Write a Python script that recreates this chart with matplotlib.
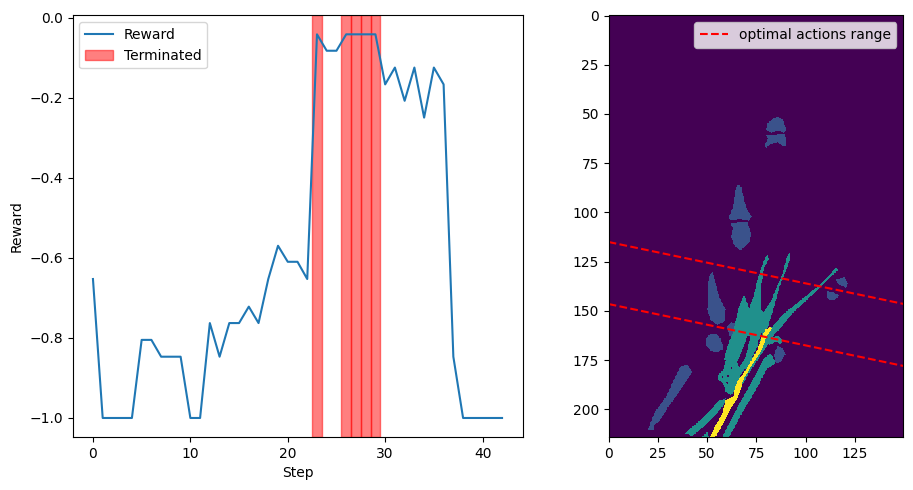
import numpy as np
import matplotlib
matplotlib.use("Agg")
import matplotlib.pyplot as plt
from matplotlib.path import Path

steps = list(range(43))
rewards = [-0.653, -1, -1, -1, -1, -0.805, -0.805, -0.847, -0.847, -0.847,
           -1, -1, -0.763, -0.847, -0.763, -0.763, -0.722, -0.763, -0.653, -0.57,
           -0.61, -0.61, -0.653, -0.042, -0.083, -0.083, -0.042, -0.042, -0.042, -0.042,
           -0.167, -0.125, -0.208, -0.125, -0.25, -0.125, -0.167, -0.847, -1, -1,
           -1, -1, -1]
terminated_steps = [23, 26, 27, 28, 29]

# optimal actions range, (x, y) ends in image cells
range_upper = [(0, 115), (150, 146.5)]
range_lower = [(0, 146.5), (150, 178)]

img_rows = 214
img_cols = 150
oversample = 3

# segmentation outlines, image cells (x, y)
blue_shapes = [
    [(85.5, 51.5), (88, 52.9), (90.1, 58), (88.9, 59.6), (85.5, 58.8), (82.1, 59.6), (79.6, 58.3), (80.4, 54.9), (83, 52.5)],
    [(79.2, 60.5), (82.1, 60.5), (85.5, 60.5), (89.2, 60.2), (89.8, 63.9), (90.1, 66.4), (88, 66.4), (85.5, 64.4), (82.1, 65.6), (79.6, 67.4), (79, 65.6), (80.7, 62.7)],
    [(66, 85.8), (67.3, 87.6), (68.5, 93.6), (70.2, 98.6), (72.4, 102.4), (71, 104.2), (66, 103.7), (61.7, 104.2), (60.7, 102.4), (63.1, 96.9), (63.7, 90.2), (64.8, 86.4)],
    [(61.7, 105.8), (66, 104.9), (70.2, 105.1), (72.2, 111.3), (71, 115.6), (66.8, 119.3), (63.7, 117.3), (62, 113), (62.6, 108)],
    [(52.4, 130), (54.1, 135.9), (55.8, 142.7), (59.2, 149.5), (58.6, 155.4), (54.9, 157.1), (51.5, 154.6), (49.8, 149.5), (50.1, 139.3), (50.7, 132.5)],
    [(49, 164.7), (50.7, 162.2), (54.9, 161.9), (56.9, 164.7), (58.3, 169), (54.9, 171.2), (51.5, 170.2), (49.1, 167.3)],
    [(60, 158), (62, 155.6), (65.1, 157.1), (64.3, 162.2), (60.9, 163)],
    [(36.2, 178.3), (39.6, 177.4), (42.2, 180.8), (36.2, 190.2), (30.2, 198.6), (25.2, 206.3), (22.6, 208), (22.6, 210.5), (20, 210.2), (20.9, 207.1), (23.4, 201.2), (29.4, 192.7), (33.7, 183.4)],
    [(115.3, 133.9), (119.5, 133), (120.9, 135.9), (120.4, 138.5), (117, 136.8), (115.8, 135.6)],
    [(110.7, 139.8), (114.4, 141), (117, 142.4), (114.4, 144.4), (111.9, 144.7), (110.2, 142.7)],
    [(85.5, 167.8), (88, 169), (89.7, 171.9), (87.2, 175.8), (84.7, 176.6), (83.5, 172.4)],
]
teal_shapes = [
    # fan with the fingers
    [(58.3, 174.9), (60, 168.1), (62.6, 161.4), (64.3, 154.6), (65.7, 148.6), (68.5, 141.8), (71.1, 148.6), (73.6, 141.8), (75.4, 133.4), (77.6, 127.4), (79.6, 122.3), (80.5, 121.5), (81, 124), (78.7, 128.3), (78.2, 131.7), (77, 138.4), (77, 148.6), (78.2, 151.1), (82.1, 145.2), (85.6, 136.7), (88.1, 130.8), (90.6, 121.5), (91.8, 120.6), (91.5, 124.9), (89, 131.7), (86.4, 137.6), (84.7, 144.4), (82.1, 153.7), (80.4, 158.8), (76.2, 166.4), (71.1, 176.6), (66.8, 182.5), (65.1, 180.8), (69.4, 173.2), (71.9, 162.2), (70.2, 163), (66, 174), (64.3, 176.6)],
    # long arm right of the yellow
    [(115.3, 128), (116.4, 129.1), (111, 134.2), (104.2, 141), (95.7, 148.6), (88.9, 156.3), (83.8, 162.2), (79.5, 169), (75.3, 175), (71, 181.5), (67.5, 188), (66, 192), (65.5, 188), (70, 178), (75, 170), (81.3, 159.7), (88.1, 152), (97.4, 144.4), (105.9, 137.6)],
    # left strip at the bottom
    [(38.8, 212.2), (42.2, 213.6), (48.1, 208.8), (54, 202.9), (58.3, 197.8), (59.2, 194.4), (55.7, 195.3), (52.4, 199.5), (46.4, 205.4), (41.3, 209.7)],
    # right strip at the bottom
    [(78.7, 174), (82.1, 171.5), (84.7, 176.6), (80.4, 179.1), (74.5, 190), (68, 201), (60.9, 214), (57.5, 214), (65.1, 199), (71.5, 187.6)],
    [(81.3, 163.9), (85.5, 162.7), (88, 164.7), (87.2, 167.3), (84.7, 165.6), (81.3, 167.3)],
    # noisy patch under the fan
    [(59, 175.5), (64.5, 175.5), (67, 180), (66, 185.1), (63.4, 191), (61.7, 192.7), (59.2, 191), (58, 187), (55.5, 185), (55.2, 182.5), (58, 180)],
    [(49.8, 211.3), (50.7, 214), (47.3, 214)],
]
gap_shapes = [
    [(77.4, 161.4), (77.9, 161.9), (75.7, 166.8), (75.2, 166.4)],
    [(60, 182.5), (60.9, 182.5), (60.8, 183.5), (60, 183.4)],
    [(57.2, 183), (58, 182.8), (58.1, 183.8), (57.4, 183.9)],
    [(61.5, 178.5), (62.4, 178.4), (62.4, 179.4), (61.6, 179.4)],
    [(59.5, 186.5), (60.3, 186.4), (60.3, 187.3), (59.6, 187.3)],
]
yellow_shapes = [
    [(82.1, 158), (82.6, 158.8), (79.6, 163.9), (77.9, 169), (73.6, 175.8), (71, 180), (68.5, 184.2), (66.5, 191), (65.1, 194.4), (61.7, 199.5), (56.6, 209.7), (54, 214),
     (51.2, 214), (53.2, 209.7), (57.5, 202), (59.2, 195.3), (63.4, 193.2), (63.4, 190.2), (65.1, 185.9), (67.6, 182.5), (69.4, 180), (72, 175.5), (75, 170), (77.5, 163.5), (79.5, 159.5)],
]

xs = (np.arange(img_cols * oversample) + 0.5) / oversample
ys = (np.arange(img_rows * oversample) + 0.5) / oversample
xx, yy = np.meshgrid(xs, ys)
cells = np.column_stack([xx.ravel(), yy.ravel()])
mask = np.zeros(cells.shape[0])
for shapes, label in [(blue_shapes, 1), (teal_shapes, 2), (gap_shapes, 0), (yellow_shapes, 4)]:
    for s in shapes:
        mask[Path(s).contains_points(cells)] = label
mask = mask.reshape(img_rows * oversample, img_cols * oversample)

fig = plt.figure(figsize=(9.13, 4.9), dpi=100)
ax1 = fig.add_axes([72.5 / 913, 1 - 437 / 490, 450 / 913, 421.5 / 490])
ax2 = fig.add_axes([608.5 / 913, 1 - 437 / 490, 295 / 913, 421.5 / 490])

ax1.plot(steps, rewards, label="Reward")
for i, s in enumerate(terminated_steps):
    ax1.axvspan(s - 0.5, s + 0.5, color="red", alpha=0.5, label="Terminated" if i == 0 else None)
ax1.set_xlim(-2.1, 44.1)
ax1.set_ylim(-1.0475, 0.005)
ax1.set_xlabel("Step")
ax1.set_ylabel("Reward")
ax1.legend(loc="upper left")

ax2.imshow(mask, extent=(0, img_cols, img_rows, 0), interpolation="nearest")
ax2.plot(*zip(*range_upper), "r--", label="optimal actions range")
ax2.plot(*zip(*range_lower), "r--")
ax2.set_xlim(0, 149.6)
ax2.set_ylim(img_rows, 0)
ax2.legend(loc="upper right")

plt.savefig("out.png", dpi=100)
